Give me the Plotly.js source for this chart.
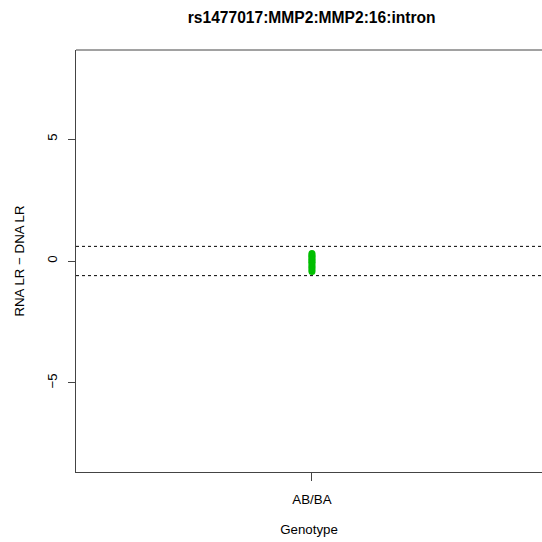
<!DOCTYPE html>
<html>
<head>
<meta charset="utf-8">
<script src="https://cdn.plot.ly/plotly-3.0.1.min.js"></script>
<style>html,body{margin:0;padding:0;background:#fff;overflow:hidden;}#chart{width:542px;height:542px;}</style>
</head>
<body>
<div id="chart"></div>
<script>
const titleText = "rs1477017:MMP2:MMP2:16:intron";
const categories = ["AB/BA"];
const genotypeOfPoint = ["AB/BA","AB/BA","AB/BA","AB/BA","AB/BA","AB/BA","AB/BA","AB/BA","AB/BA","AB/BA","AB/BA","AB/BA"];
const lrDiff = [0.31, 0.24, 0.18, 0.12, 0.06, 0.0, -0.05, -0.12, -0.2, -0.27, -0.35, -0.43];
const thresholds = [0.6, -0.6];
const yTicks = [-5, 0, 5];

const shapes = thresholds.map(v => ({
  type: "line", xref: "paper", x0: 0, x1: 1, yref: "y", y0: v, y1: v,
  line: {color: "#000", width: 1, dash: "3px,3px"}
}));
shapes.push({type: "line", xref: "paper", yref: "paper", x0: 0, x1: 1, y0: 1, y1: 1, line: {color: "#444", width: 1}});

const trace = {
  type: "scatter", mode: "markers",
  x: genotypeOfPoint, y: lrDiff,
  marker: {color: "#00BE00", size: 7, line: {width: 0}},
  hoverinfo: "skip", showlegend: false
};

const layout = {
  width: 542, height: 542,
  margin: {l: 76, r: 0, t: 50, b: 70, pad: 0},
  paper_bgcolor: "#fff", plot_bgcolor: "#fff",
  font: {family: "Liberation Sans, Arial, sans-serif", color: "#000", size: 13.3},
  title: {text: "<b>" + titleText + "</b>", xref: "container", x: 0.575, xanchor: "center", yref: "container", y: 0.967, yanchor: "middle", font: {size: 15.6, color: "#000"}},
  xaxis: {
    type: "category", categoryarray: categories, range: [-1, 0.975],
    showgrid: false, zeroline: false, showline: true, linecolor: "#444", linewidth: 1,
    ticks: "outside", ticklen: 8, tickcolor: "#444",
    ticklabelstandoff: 7,
    tickfont: {size: 13.3},
    title: {text: "Genotype", font: {size: 13.3}, standoff: 18}
  },
  yaxis: {
    range: [-8.65, 8.65], tickvals: yTicks, ticktext: yTicks.map(v => v < 0 ? "\u2212" + Math.abs(v) : String(v)),
    tickangle: -90,
    showgrid: false, zeroline: false, showline: true, linecolor: "#444", linewidth: 1,
    ticks: "outside", ticklen: 7, tickcolor: "#444",
    ticklabelstandoff: 6,
    tickfont: {size: 13.3},
    title: {text: "RNA LR \u2212 DNA LR", font: {size: 13.3}, standoff: 17}
  },
  shapes: shapes
};

Plotly.newPlot("chart", [trace], layout, {staticPlot: true, displayModeBar: false});
</script>
</body>
</html>
